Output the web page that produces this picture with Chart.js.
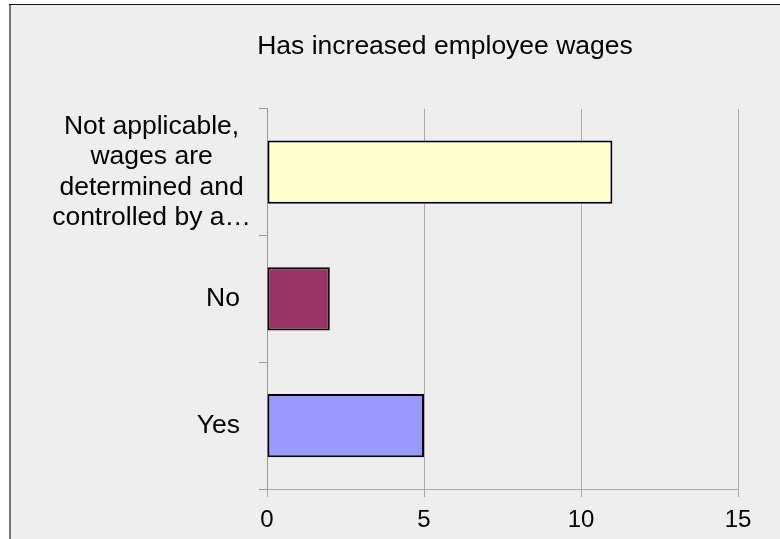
<!DOCTYPE html>
<html>
<head>
<meta charset="utf-8">
<title>Has increased employee wages</title>
<script src="https://cdn.jsdelivr.net/npm/chart.js@4.4.1/dist/chart.umd.min.js"></script>
<style>
  html, body { margin: 0; padding: 0; background: #ffffff; }
  canvas { display: block; }
</style>
</head>
<body>
<canvas id="wagesChart" width="780" height="539"></canvas>
<script>
// Survey answers, one bar per answer
const categories = [
  ['Not applicable,', 'wages are', 'determined and', 'controlled by a\u2026'],
  'No',
  'Yes'
];
const responseCounts = [11, 2, 5];
const barColors = ['#ffffcc', '#993366', '#9999ff'];
const tickValues = [0, 5, 10, 15];

const FONT = "'Liberation Sans', Arial, Helvetica, sans-serif";

// Grey panel with a thin frame, behind everything
const panelBackground = {
  id: 'panelBackground',
  beforeDraw(chart) {
    const ctx = chart.ctx;
    const w = chart.width, h = chart.height;
    ctx.save();
    ctx.fillStyle = '#ffffff';
    ctx.fillRect(0, 0, w, h);
    ctx.fillStyle = '#eeeeee';
    ctx.fillRect(9, 4, w - 9, h - 4);
    ctx.fillStyle = '#777777';
    ctx.fillRect(9, 4, 2, h - 4);
    ctx.fillStyle = '#111111';
    ctx.fillRect(9, 4, w - 9, 1);
    ctx.restore();
  }
};

// Category labels: wrapped lines are centred as a block, single lines sit right
const categoryLabels = {
  id: 'categoryLabels',
  afterDraw(chart) {
    const ctx = chart.ctx;
    const yScale = chart.scales.y;
    ctx.save();
    ctx.font = '26.5px ' + FONT;
    ctx.fillStyle = '#000000';
    ctx.textBaseline = 'middle';
    const lineHeight = 30.5;
    categories.forEach((label, i) => {
      const lines = Array.isArray(label) ? label : [label];
      const yMid = yScale.getPixelForValue(i);
      const top = yMid - (lines.length - 1) * lineHeight / 2;
      if (lines.length > 1) {
        const widest = Math.max(...lines.map(l => ctx.measureText(l).width));
        const cx = yScale.right - 16 - widest / 2;
        ctx.textAlign = 'center';
        lines.forEach((l, j) => ctx.fillText(l, cx, top + j * lineHeight));
      } else {
        ctx.textAlign = 'right';
        ctx.fillText(lines[0], yScale.right - 27, yMid);
      }
    });
    ctx.restore();
  }
};

new Chart(document.getElementById('wagesChart').getContext('2d'), {
  type: 'bar',
  data: {
    labels: categories,
    datasets: [{
      data: responseCounts,
      backgroundColor: barColors,
      borderColor: '#000000',
      borderWidth: 2,
      borderSkipped: false,
      barPercentage: 0.5,
      categoryPercentage: 1
    }]
  },
  options: {
    indexAxis: 'y',
    responsive: false,
    animation: false,
    devicePixelRatio: 1,
    layout: {
      padding: { left: 152, right: 42, top: 0, bottom: 0 }
    },
    plugins: {
      legend: { display: false },
      tooltip: { enabled: false },
      title: {
        display: true,
        text: 'Has increased employee wages',
        color: '#000000',
        font: { family: FONT, size: 26.5, weight: 'normal' },
        padding: { top: 31, bottom: 46 }
      }
    },
    scales: {
      x: {
        min: tickValues[0],
        max: tickValues[tickValues.length - 1],
        afterBuildTicks(scale) {
          scale.ticks = tickValues.map(v => ({ value: v }));
        },
        afterFit(scale) {
          scale.height = 50;
        },
        grid: {
          color: '#aaaaaa',
          lineWidth: 1,
          drawTicks: true,
          tickLength: 8
        },
        border: { display: true, color: '#aaaaaa' },
        ticks: {
          color: '#000000',
          padding: 9,
          font: { family: FONT, size: 24 }
        }
      },
      y: {
        afterFit(scale) {
          scale.width = 115;
        },
        grid: {
          drawOnChartArea: false,
          drawTicks: true,
          tickLength: 8,
          offset: true,
          color: '#999999'
        },
        border: { display: true, color: '#999999' },
        ticks: { display: false }
      }
    }
  },
  plugins: [panelBackground, categoryLabels]
});
</script>
</body>
</html>
